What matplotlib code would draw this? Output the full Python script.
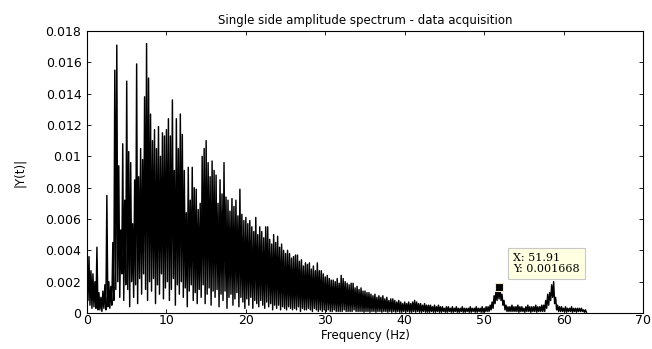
import numpy as np
import matplotlib
matplotlib.use("Agg")
from matplotlib import pyplot as plt
from matplotlib.ticker import FuncFormatter

# amplitude, units of 1e-4, one value per 0.25 Hz
# (upper spikes and lower dips of the dense trace, 8 values = 2 Hz per row)
amp_high_e4 = [
	35, 36, 27, 25, 20, 42, 13, 10,
	14, 18, 75, 20, 17, 45, 155, 171,
	94, 53, 108, 72, 148, 103, 96, 57,
	85, 159, 87, 105, 98, 138, 172, 150,
	127, 110, 117, 105, 119, 100, 115, 113,
	117, 124, 113, 136, 91, 124, 105, 127,
	114, 91, 64, 93, 72, 93, 80, 79,
	66, 70, 100, 105, 110, 96, 87, 97,
	91, 88, 70, 85, 76, 96, 74, 72,
	65, 73, 68, 72, 62, 79, 63, 59,
	61, 57, 59, 55, 52, 61, 50, 55,
	52, 48, 55, 55, 47, 44, 50, 45,
	49, 42, 44, 40, 38, 40, 38, 35,
	36, 37, 37, 33, 34, 30, 32, 31,
	32, 28, 30, 27, 32, 27, 27, 25,
	23, 24, 22, 21, 21, 20, 22, 19,
	24, 22, 20, 19, 18, 19, 19, 16,
	17, 15, 16, 14, 14, 13, 13, 12,
	11, 12, 10, 11, 10, 11, 9, 10,
	8, 9, 9, 8, 7, 8, 7, 6,
	7, 6, 7, 6, 7, 8, 7, 6,
	6, 5, 6, 5, 5, 5, 4, 5,
	4, 5, 4, 4, 3, 4, 4, 3,
	4, 3, 4, 3, 3, 4, 3, 3,
	3, 4, 3, 3, 4, 3, 3, 4,
	3, 4, 4, 5, 7, 11, 15, 17,
	16, 12, 8, 5, 4, 4, 5, 4,
	4, 5, 4, 4, 3, 4, 5, 4,
	4, 4, 5, 4, 4, 5, 5, 8,
	12, 13, 18, 20, 10, 5, 4, 4,
	3, 4, 3, 3, 4, 3, 3, 3,
	3, 3, 2, 2,
]
amp_low_e4 = [
	8, 5, 3, 4, 3, 2, 2, 1,
	3, 2, 4, 3, 5, 8, 15, 20,
	10, 25, 8, 18, 15, 4, 20, 10,
	18, 6, 22, 12, 25, 15, 8, 20,
	14, 22, 6, 18, 12, 25, 9, 16,
	20, 8, 15, 22, 5, 18, 12, 20,
	10, 16, 4, 14, 18, 8, 13, 6,
	15, 10, 18, 6, 12, 16, 5, 14,
	10, 15, 4, 12, 8, 14, 3, 10,
	12, 5, 9, 13, 4, 10, 7, 3,
	9, 5, 10, 3, 8, 6, 4, 8,
	5, 3, 7, 4, 6, 2, 5, 3,
	5, 2, 4, 3, 2, 4, 3, 2,
	3, 2, 4, 1, 3, 2, 2, 3,
	2, 1, 3, 2, 1, 2, 1, 2,
	1, 2, 1, 1, 2, 1, 1, 1,
	1, 2, 1, 1, 1, 1, 2, 1,
	1, 1, 1, 0.5, 1, 1, 0.5, 1,
	1, 0.5, 1, 1, 0.5, 1, 1, 0.5,
	1, 0.5, 1, 0.5, 1, 0.5, 0.5, 1,
	0.5, 1, 0.5, 0.5, 1, 0.5, 1, 0.5,
	0.5, 1, 0.5, 0.5, 0.5, 1, 0.5, 0.5,
	1, 0.5, 0.5, 1, 0.5, 0.5, 1, 0.5,
	0.5, 1, 0.5, 0.5, 1, 0.5, 0.5, 1,
	0.5, 0.5, 1, 0.5, 0.5, 1, 0.5, 0.5,
	1, 1, 1, 2, 3, 6, 8, 9,
	8, 5, 2, 1, 1, 1, 1, 1,
	1, 0.5, 1, 1, 0.5, 1, 1, 0.5,
	1, 1, 0.5, 1, 1, 1, 1, 3,
	5, 8, 10, 6, 2, 1, 1, 1,
	1, 0.5, 1, 1, 0.5, 1, 0.5, 1,
	1, 1, 0.5, 0.5,
]
freq_step = 0.25

# MATLAB datatip
tip_x = 51.91
tip_y = 0.001668

x_ticks = [0, 10, 20, 30, 40, 50, 60, 70]
y_ticks = [0, 0.002, 0.004, 0.006, 0.008, 0.01, 0.012, 0.014, 0.016, 0.018]

plt.rcParams['font.family'] = ['DejaVu Sans']

hi = np.array(amp_high_e4) * 1e-4
lo = np.array(amp_low_e4) * 1e-4
f = np.arange(len(hi)) * freq_step
# interleave spikes and dips so the trace fills like the original
freq = np.column_stack([f, f + freq_step / 2]).ravel()
amp = np.column_stack([hi, lo]).ravel()

fig = plt.figure(figsize=(6.52, 3.49), dpi=100)
ax = fig.add_axes([87 / 652, 36 / 349, 556 / 652, 282 / 349])

ax.plot(freq, amp, color='black', lw=1.05)

ax.set_xlim(0, 70)
ax.set_ylim(0, 0.018)
ax.set_xticks(x_ticks)
ax.set_yticks(y_ticks)
ax.yaxis.set_major_formatter(FuncFormatter(lambda v, p: '%g' % v))
ax.tick_params(direction='in', top=True, right=True, length=3, width=0.6,
	labelsize=9)
ax.tick_params(axis='x', pad=1)
ax.tick_params(axis='y', pad=4)
for s in ax.spines.values():
	s.set_linewidth(0.8)

ax.set_title('Single side amplitude spectrum - data acquisition', fontsize=8.5, pad=5)
ax.set_xlabel('Frequency (Hz)', fontsize=8.5, labelpad=1)
ax.set_ylabel('|Y(t)|', fontsize=8.5, labelpad=14)

ax.plot([tip_x], [tip_y], marker='s', ms=6, color='black',
	markeredgecolor='#f0ecc0', markeredgewidth=0.8, zorder=5)
ax.annotate('X: %.2f\nY: %g' % (tip_x, tip_y), xy=(tip_x, tip_y),
	xytext=(10, 9), textcoords='offset points', ha='left', va='bottom',
	family=['DejaVu Serif'], fontsize=8, linespacing=1.15,
	bbox=dict(boxstyle='square,pad=0.45', fc='#ffffe1', ec='#c8c8c8', lw=0.8),
	zorder=6)

fig.savefig('out.png', dpi=100)
